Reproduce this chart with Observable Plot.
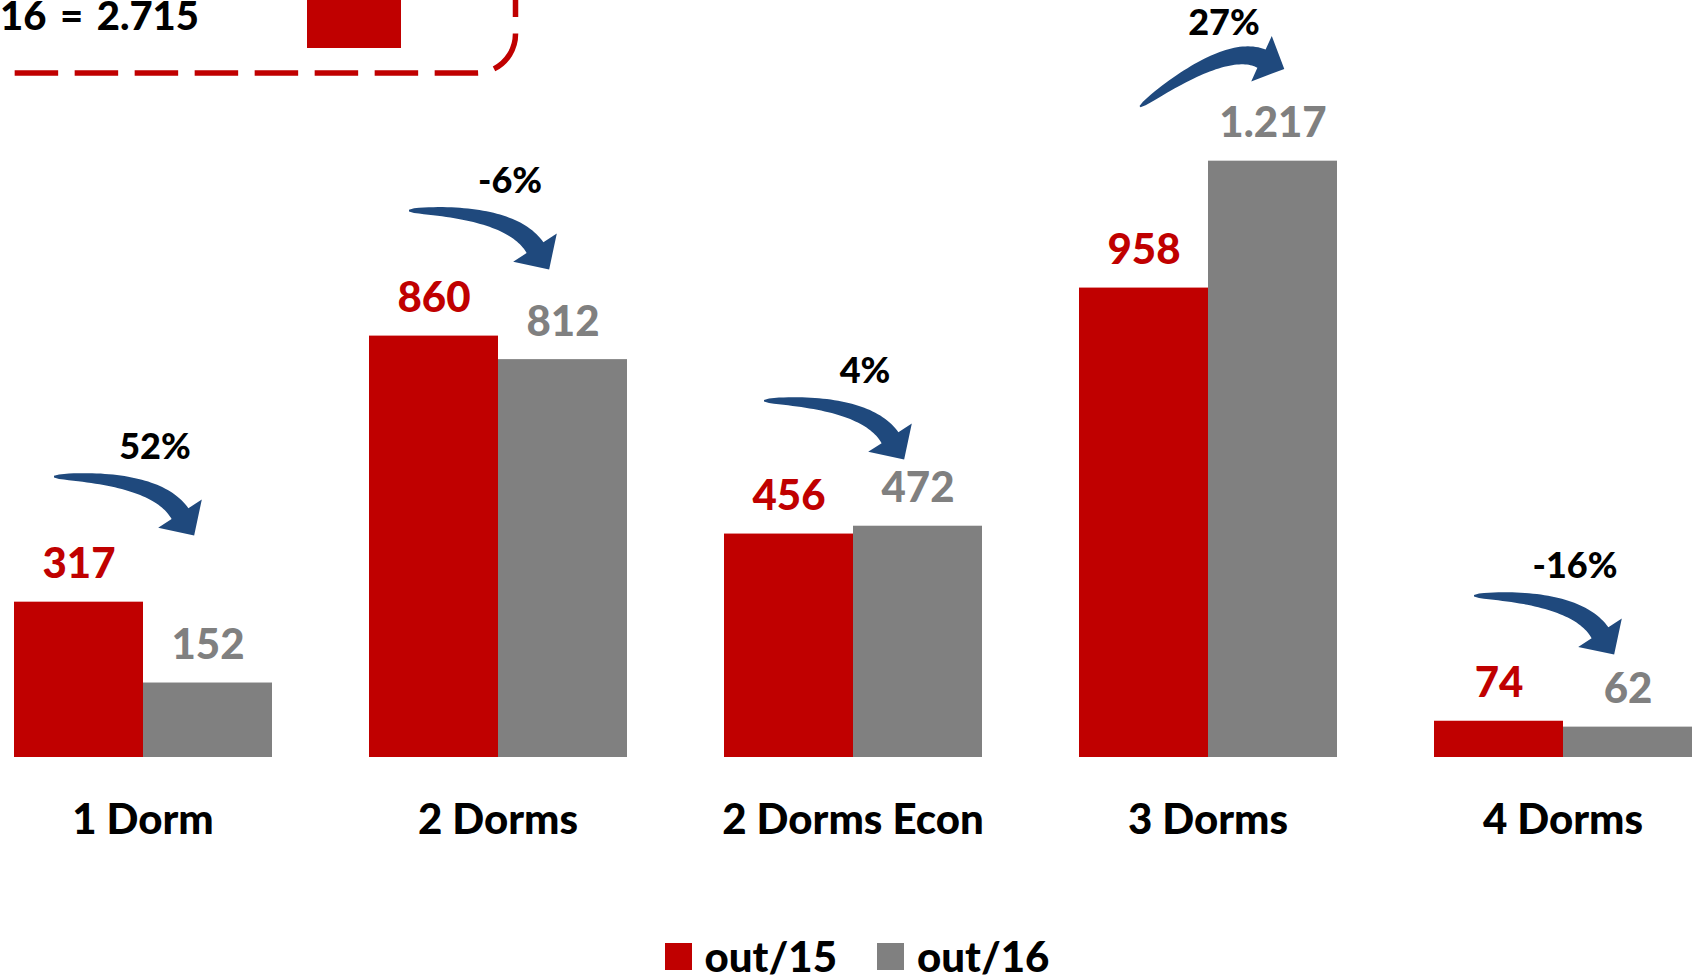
<!DOCTYPE html>
<html><head><meta charset="utf-8">
<script src="https://cdn.jsdelivr.net/npm/d3@7"></script>
<script src="https://cdn.jsdelivr.net/npm/@observablehq/plot@0.6"></script>
<style>
html,body{margin:0;padding:0;background:#fff;}
#chart svg{display:block;}
.legend{height:48px;box-sizing:border-box;padding-top:4px;padding-left:18px;display:flex;justify-content:center;align-items:center;font-family:Lato,'Open Sans',sans-serif;font-weight:900;font-size:42px;line-height:44px;color:#000;}
.item{display:flex;align-items:center;margin:0 20px;}
.sw{width:27px;height:27px;margin-right:13px;}
</style></head><body>
<div id="chart"></div>
<div class="legend" id="legend"></div>
<script>
// ---- data ----
const categories = ["1 Dorm", "2 Dorms", "2 Dorms Econ", "3 Dorms", "4 Dorms"];
const seriesNames = ["out/15", "out/16"];
const out15 = [317, 860, 456, 958, 74];
const out16 = [152, 812, 472, 1217, 62];
const changeLabels = ["52%", "-6%", "4%", "27%", "-16%"];
const arrowDirections = ["down", "down", "down", "up", "down"];

// ---- styles ----
const red = "#C00000", gray = "#808080", blue = "#1F497D";
const seriesColors = [red, gray];
const W = 900; // font weight
const locale = d3.formatLocale({decimal: ",", thousands: ".", grouping: [3], currency: ["", ""]});
const fmt = locale.format(",d");

const rows = categories.flatMap((c, i) => [
  {category: c, series: seriesNames[0], value: out15[i]},
  {category: c, series: seriesNames[1], value: out16[i]}
]);
const callouts = categories.map((c, i) => ({
  category: c, top: Math.max(out15[i], out16[i]), label: changeLabels[i], dir: arrowDirections[i]
}));

// curved arrow shapes (pixel offsets relative to group start / taller bar top)
const arrowShapes = {
  down: {tail: [40, -125], ctrl: [102, 0], base: [126, 37], head: 26, tip: 26, w0: 0.8, w1: 10},
  up: {tail: [61, -54], ctrl: [85.6, -64.2], base: [121.5, -48], head: 25, tip: 25, w0: 0.8, w1: 10}
};

function arrowPath(x0, y0, s) {
  const T = [x0 + s.tail[0], y0 + s.tail[1]];
  const C = [T[0] + s.ctrl[0], T[1] + s.ctrl[1]];
  const B = [T[0] + s.base[0], T[1] + s.base[1]];
  const n = 40, L = [], R = [];
  for (let k = 0; k <= n; k++) {
    const t = k / n, u = 1 - t;
    const px = u * u * T[0] + 2 * u * t * C[0] + t * t * B[0];
    const py = u * u * T[1] + 2 * u * t * C[1] + t * t * B[1];
    const dx = 2 * u * (C[0] - T[0]) + 2 * t * (B[0] - C[0]);
    const dy = 2 * u * (C[1] - T[1]) + 2 * t * (B[1] - C[1]);
    const len = Math.hypot(dx, dy), nx = -dy / len, ny = dx / len;
    const w = s.w0 + (s.w1 - s.w0) * Math.sqrt(t);
    L.push([px + nx * w, py + ny * w]);
    R.push([px - nx * w, py - ny * w]);
  }
  const ex = B[0] - C[0], ey = B[1] - C[1], el = Math.hypot(ex, ey);
  const d = [ex / el, ey / el], N = [-d[1], d[0]];
  const tip = [B[0] + d[0] * s.tip, B[1] + d[1] * s.tip];
  const h1 = [B[0] + N[0] * s.head, B[1] + N[1] * s.head];
  const h2 = [B[0] - N[0] * s.head, B[1] - N[1] * s.head];
  const pts = [...L, h1, tip, h2, ...R.reverse()];
  return "M" + pts.map(p => p[0].toFixed(2) + "," + p[1].toFixed(2)).join("L") + "Z";
}

function arrowMark(dir) {
  return Plot.dot(callouts.filter(d => d.dir === dir), {
    fx: "category", x: () => seriesNames[0], y: "top",
    render(index, scales, values) {
      const g = d3.create("svg:g");
      for (const i of index) {
        g.append("path").attr("d", arrowPath(values.x[i], values.y[i], arrowShapes[dir])).attr("fill", blue);
      }
      return g.node();
    }
  });
}

const chart = Plot.plot({
  width: 1696, height: 930,
  marginLeft: 11, marginRight: 3, marginTop: 120, marginBottom: 173,
  style: `font-family: Lato, 'Open Sans', sans-serif; font-weight: ${W}; background: #fff;`,
  fx: {domain: categories, paddingInner: 0.2714, paddingOuter: 0, label: null},
  x: {domain: seriesNames, padding: 0, axis: null},
  y: {domain: [0, 1300], axis: null},
  color: {domain: seriesNames, range: seriesColors},
  marks: [
    Plot.barY(rows, {fx: "category", x: "series", y: "value", fill: "series"}),
    Plot.text(rows, {fx: "category", x: "series", y: "value", text: d => fmt(d.value), fill: "series",
      lineAnchor: "bottom", dy: -24, fontSize: 42, fontWeight: W}),
    arrowMark("down"),
    arrowMark("up"),
    Plot.text(callouts.filter(d => d.dir === "down"), {fx: "category", x: () => seriesNames[0], y: "top",
      text: "label", dx: 76, dy: -155, fontSize: 36, fontWeight: W, fill: "#000"}),
    Plot.text(callouts.filter(d => d.dir === "up"), {fx: "category", x: () => seriesNames[0], y: "top",
      text: "label", dx: 80, dy: -138, fontSize: 36, fontWeight: W, fill: "#000"}),
    Plot.axisFx({anchor: "bottom", tickSize: 0, tickPadding: 47, fontSize: 42, fontWeight: W, label: null, fill: "#000"})
  ]
});

// cropped total box in the top-left corner
const svg = d3.select(chart);
const box = svg.append("g");
box.append("rect").attr("x", 307).attr("y", -10).attr("width", 94).attr("height", 58).attr("fill", red);
box.append("text").attr("x", 199).attr("y", 30).attr("text-anchor", "end")
  .attr("font-size", 40).attr("font-weight", W).attr("word-spacing", 4).attr("fill", "#000")
  .text(`Total out/16 = ${fmt(d3.sum(out16))}`);
box.append("path").attr("d", "M515.5,-26.5L515.5,34A39,39 0 0 1 476.5,73L-60,73")
  .attr("fill", "none").attr("stroke", red).attr("stroke-width", 5.5).attr("stroke-dasharray", "43.5 16.5");

document.getElementById("chart").appendChild(chart);

const legend = document.getElementById("legend");
seriesNames.forEach((s, i) => {
  const item = document.createElement("div"); item.className = "item";
  const sw = document.createElement("div"); sw.className = "sw"; sw.style.background = seriesColors[i];
  const lab = document.createElement("span"); lab.textContent = s;
  item.appendChild(sw); item.appendChild(lab); legend.appendChild(item);
});
</script>
</body></html>
